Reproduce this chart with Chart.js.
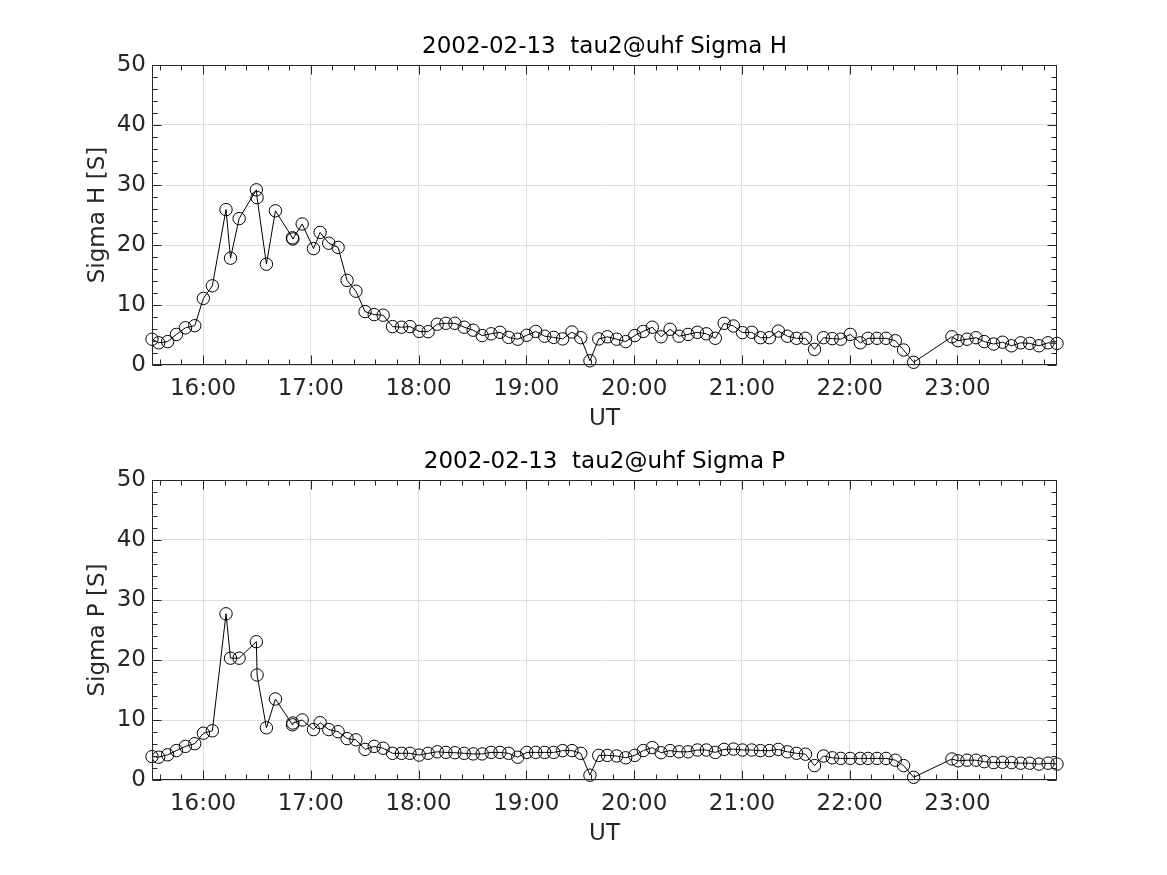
<!DOCTYPE html>
<html>
<head>
<meta charset="utf-8">
<script src="https://cdn.jsdelivr.net/npm/chart.js@4.4.1/dist/chart.umd.min.js"></script>
<style>
  html, body { margin: 0; padding: 0; background: #ffffff; }
  body { width: 1167px; height: 875px; position: relative; overflow: hidden; }
  canvas { position: absolute; left: 0; }
  #c1 { top: 0px; }
  #c2 { top: 415px; }
</style>
</head>
<body>
<canvas id="c1" width="1167" height="437"></canvas>
<canvas id="c2" width="1167" height="437"></canvas>
<script>
// ---- Data (time in minutes since 00:00 UT) ----
const dateLabel = "2002-02-13";
const radarLabel = "tau2@uhf";
const timesMin = [931.6, 935.3, 940.3, 945.2, 950.2, 955.4, 960.2, 965.2, 972.8, 975.3,
  980.1, 989.7, 990.1, 995.3, 1000.3, 1009.8, 1010.0, 1015.2, 1021.5, 1025.2,
  1030.0, 1035.2, 1040.2, 1045.1, 1050.2, 1055.3, 1060.3, 1065.5, 1070.5, 1075.2,
  1080.3, 1085.3, 1090.4, 1095.2, 1100.2, 1105.4, 1110.4, 1115.4, 1120.4, 1125.3,
  1130.1, 1135.2, 1140.2, 1145.2, 1150.2, 1155.2, 1160.2, 1165.4, 1170.3, 1175.4,
  1180.3, 1185.1, 1190.3, 1195.3, 1200.3, 1205.1, 1210.1, 1215.0, 1220.0, 1225.0,
  1230.0, 1235.2, 1240.2, 1245.2, 1250.1, 1255.3, 1260.3, 1265.5, 1270.3, 1275.3,
  1280.3, 1285.3, 1290.4, 1295.4, 1300.4, 1305.4, 1310.3, 1315.0, 1320.3, 1325.9,
  1330.2, 1335.2, 1340.2, 1345.4, 1350.0, 1355.6, 1376.9, 1380.3, 1385.3, 1390.3,
  1394.9, 1400.1, 1405.1, 1410.1, 1415.2, 1420.2, 1425.4, 1430.4, 1435.4];

const sigmaH = [4.3, 3.7, 3.9, 5.1, 6.2, 6.55, 11.1, 13.2, 25.9, 17.8,
  24.4, 29.2, 27.9, 16.8, 25.7, 21.2, 21.0, 23.5, 19.4, 22.1,
  20.3, 19.6, 14.1, 12.3, 8.9, 8.4, 8.3, 6.4, 6.3, 6.4,
  5.6, 5.55, 6.8, 6.95, 6.95, 6.3, 5.8, 4.9, 5.2, 5.45,
  4.6, 4.3, 4.95, 5.6, 4.8, 4.6, 4.35, 5.5, 4.55, 0.7,
  4.35, 4.7, 4.3, 3.9, 4.9, 5.6, 6.3, 4.7, 5.95, 4.8,
  5.1, 5.45, 5.2, 4.45, 6.95, 6.5, 5.4, 5.45, 4.55, 4.55,
  5.65, 4.8, 4.45, 4.45, 2.6, 4.55, 4.4, 4.3, 5.1, 3.7,
  4.45, 4.45, 4.45, 4.05, 2.5, 0.45, 4.7, 4.05, 4.3, 4.55,
  3.9, 3.5, 3.8, 3.2, 3.7, 3.6, 3.2, 3.7, 3.6];

const sigmaP = [3.9, 3.8, 4.2, 4.9, 5.6, 6.05, 7.8, 8.2, 27.7, 20.3,
  20.3, 23.05, 17.5, 8.7, 13.5, 9.2, 9.5, 10.0, 8.4, 9.55,
  8.4, 8.05, 6.9, 6.7, 5.1, 5.6, 5.3, 4.45, 4.45, 4.45,
  4.15, 4.45, 4.7, 4.6, 4.55, 4.45, 4.35, 4.35, 4.6, 4.6,
  4.45, 3.8, 4.6, 4.6, 4.6, 4.6, 4.9, 4.9, 4.45, 0.8,
  4.1, 4.1, 4.0, 3.7, 4.1, 4.9, 5.4, 4.55, 4.9, 4.7,
  4.7, 5.0, 5.0, 4.6, 5.1, 5.15, 5.0, 5.0, 4.9, 4.9,
  5.1, 4.7, 4.45, 4.3, 2.4, 4.0, 3.7, 3.6, 3.6, 3.6,
  3.6, 3.6, 3.6, 3.3, 2.4, 0.45, 3.5, 3.2, 3.3, 3.3,
  3.05, 2.9, 2.95, 2.9, 2.8, 2.8, 2.65, 2.8, 2.65];

const xTickMinutes = [960, 1020, 1080, 1140, 1200, 1260, 1320, 1380];
const xTickLabels = ["16:00", "17:00", "18:00", "19:00", "20:00", "21:00", "22:00", "23:00"];
const yTicks = [0, 10, 20, 30, 40, 50];

// ---- Style ----
const FONT = "'DejaVu Sans', 'Liberation Sans', sans-serif";
const FS = 23;
const TXT = '#262626';
const GRID = '#dedede';

const matlabAxes = {
  id: 'matlabAxes',
  afterDraw(chart, args, opts) {
    const {ctx, chartArea: a, scales: {x, y}} = chart;
    ctx.save();
    ctx.strokeStyle = TXT;
    ctx.lineWidth = 1;
    const L = Math.round(a.left) + 0.5, R = Math.round(a.right) - 0.5;
    const T = Math.round(a.top) + 0.5, B = Math.round(a.bottom) - 0.5;
    ctx.beginPath();
    const xt = (v, len) => {
      const p = Math.round(x.getPixelForValue(v)) + 0.5;
      ctx.moveTo(p, B); ctx.lineTo(p, B - len);
      ctx.moveTo(p, T); ctx.lineTo(p, T + len);
    };
    const yt = (v, len) => {
      const p = Math.round(y.getPixelForValue(v)) + 0.5;
      ctx.moveTo(L, p); ctx.lineTo(L + len, p);
      ctx.moveTo(R, p); ctx.lineTo(R - len, p);
    };
    // minor x ticks every 12 min, major every hour
    const xStart = Math.ceil(x.min / 12) * 12;
    for (let v = xStart; v <= x.max; v += 12) {
      xt(v, (v % 60 === 0) ? 9 : 5);
    }
    for (let v = 0; v <= 50; v += 2) {
      yt(v, (v % 10 === 0) ? 9 : 5);
    }
    ctx.stroke();
    ctx.strokeRect(L, T, R - L, B - T);
    // title centred over the axes
    ctx.fillStyle = '#000000';
    ctx.font = FS + 'px ' + FONT;
    ctx.textAlign = 'center';
    ctx.textBaseline = 'alphabetic';
    ctx.fillText(opts.text, (a.left + a.right) / 2, 53);
    ctx.restore();
  }
};

function makeChart(id, values, yLabel, titleText) {
  const pts = timesMin.map((t, i) => ({x: t, y: values[i]}));
  return new Chart(document.getElementById(id), {
    type: 'line',
    data: {
      datasets: [{
        data: pts,
        borderColor: '#000000',
        borderWidth: 1,
        backgroundColor: 'rgba(0,0,0,0)',
        pointStyle: 'circle',
        pointRadius: 6.2,
        pointBorderWidth: 1,
        pointBorderColor: '#000000',
        pointBackgroundColor: 'rgba(0,0,0,0)',
        tension: 0,
        clip: false
      }]
    },
    options: {
      responsive: false,
      animation: false,
      events: [],
      layout: { padding: { left: 0, right: 110, top: 65, bottom: 0 } },
      plugins: {
        legend: { display: false },
        title: { display: false },
        tooltip: { enabled: false },
        matlabAxes: { text: titleText }
      },
      scales: {
        x: {
          type: 'linear',
          min: timesMin[0],
          max: timesMin[timesMin.length - 1],
          afterBuildTicks: s => { s.ticks = xTickMinutes.map(v => ({value: v})); },
          afterFit: s => { s.height = 72; },
          ticks: {
            autoSkip: false,
            maxRotation: 0,
            padding: 10,
            color: TXT,
            font: { family: FONT, size: FS },
            callback: v => xTickLabels[xTickMinutes.indexOf(v)]
          },
          grid: { color: GRID, lineWidth: 1, drawTicks: false },
          border: { display: false },
          title: {
            display: true, text: 'UT', color: TXT,
            font: { family: FONT, size: FS },
            padding: { top: 0, bottom: 4 }
          }
        },
        y: {
          type: 'linear',
          min: 0, max: 50,
          afterBuildTicks: s => { s.ticks = yTicks.map(v => ({value: v})); },
          afterFit: s => { s.width = 152; },
          ticks: {
            padding: 6,
            color: TXT,
            font: { family: FONT, size: FS }
          },
          grid: { color: GRID, lineWidth: 1, drawTicks: false },
          border: { display: false },
          title: {
            display: true, text: yLabel, color: TXT,
            font: { family: FONT, size: FS },
            padding: { top: 84, bottom: 0 }
          }
        }
      }
    },
    plugins: [matlabAxes]
  });
}

makeChart('c1', sigmaH, 'Sigma H [S]', dateLabel + '  ' + radarLabel + ' Sigma H');
makeChart('c2', sigmaP, 'Sigma P [S]', dateLabel + '  ' + radarLabel + ' Sigma P');
</script>
</body>
</html>
